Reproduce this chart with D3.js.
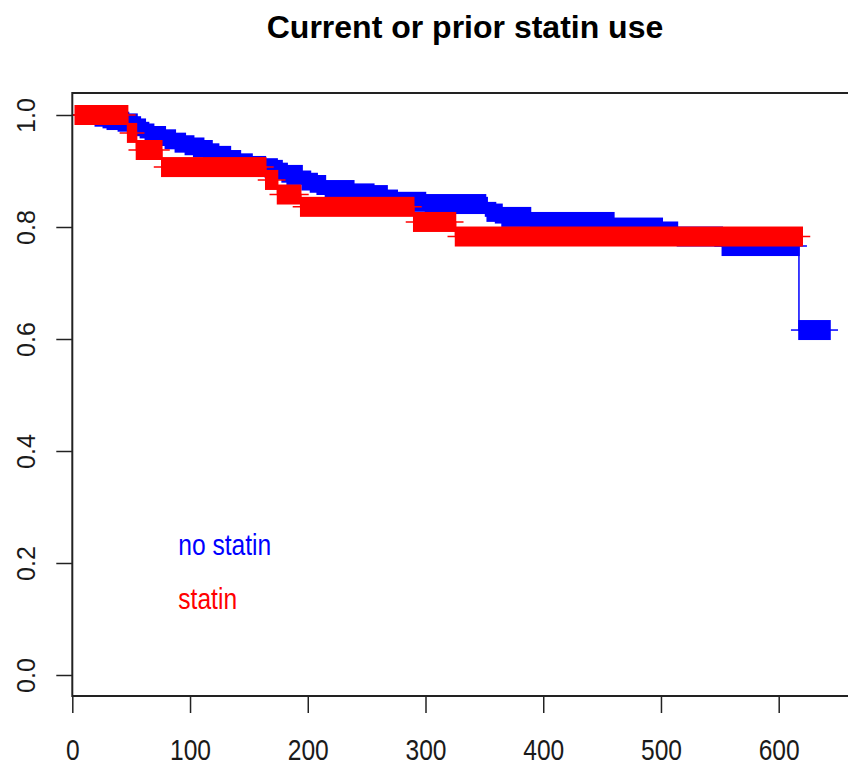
<!DOCTYPE html>
<html>
<head>
<meta charset="utf-8">
<script src="https://cdn.jsdelivr.net/npm/d3@7"></script>
<style>
  body { margin: 0; background: #fff; }
  text { font-family: "Liberation Sans", Arial, sans-serif; fill: #1a1a1a; }
</style>
</head>
<body>
<div id="chart"></div>
<script>
// Kaplan-Meier steps: time of each drop and the survival after it
var groups = ["no statin", "statin"];
var groupColors = ["#0000ff", "#ff0000"];

var noStatinTime = [0, 19.5, 26.3, 29.7, 39.1, 47.8, 55, 57.8, 62, 64.8,
  69.1, 79, 87.5, 96, 103.1, 111.6, 118.7, 124.3, 134.3, 142.8,
  152.7, 164, 174, 178.2, 182.5, 195.2, 202.3, 208, 215, 239.1,
  256.1, 267.4, 276, 300, 351, 352.4, 359.5, 365, 389.2, 460,
  501.1, 514, 552.1, 617.2];
var noStatinSurv = [1, 0.997, 0.994, 0.991, 0.988, 0.985, 0.98, 0.976, 0.97, 0.967,
  0.9625, 0.9566, 0.9506, 0.946, 0.942, 0.9375, 0.9316, 0.927, 0.9196, 0.9137,
  0.909, 0.905, 0.902, 0.897, 0.893, 0.883, 0.879, 0.875, 0.866, 0.86,
  0.857, 0.849, 0.845, 0.841, 0.836, 0.827, 0.824, 0.818, 0.809, 0.799,
  0.792, 0.783, 0.766, 0.616];
var noStatinEnd = 643.6;
// stretches of densely packed censoring marks [from, to]
var noStatinCensored = [[3, 643.6]];

var statinTime = [0, 47, 54.5, 76, 164.3, 174.3, 194, 290, 325.5];
var statinSurv = [1, 0.968, 0.9375, 0.907, 0.884, 0.858, 0.836, 0.809, 0.783];
var statinEnd = 620;
var statinCensored = [[2.5, 620]];

var xTicks = [0, 100, 200, 300, 400, 500, 600];
var yTicks = [0, 0.2, 0.4, 0.6, 0.8, 1.0];

var KMPlot = {
  settings: {
    width: 848,
    height: 767,
    left: 72.3,
    right: 858,
    top: 93,
    bottom: 696,
    markHalf: 10,   // vertical half size of a '+' mark
    armLen: 8,      // horizontal arm of a '+' mark
  },

  draw: function() {
    var s = KMPlot.settings;
    KMPlot.svg = d3.select("#chart").append("svg")
      .attr("width", s.width)
      .attr("height", s.height);

    KMPlot.x = d3.scaleLinear().domain([0, 600]).range([s.left, 778.7]);
    KMPlot.y = d3.scaleLinear().domain([0, 1]).range([675, 115]);

    KMPlot.svg.append("clipPath").attr("id", "plotclip")
      .append("rect")
      .attr("x", s.left).attr("y", s.top)
      .attr("width", s.right - s.left).attr("height", s.bottom - s.top);

    KMPlot.plot = KMPlot.svg.append("g").attr("clip-path", "url(#plotclip)");

    KMPlot.drawCurve(noStatinTime, noStatinSurv, noStatinEnd, noStatinCensored, groupColors[0]);
    KMPlot.drawCurve(statinTime, statinSurv, statinEnd, statinCensored, groupColors[1]);

    KMPlot.drawAxes();
    KMPlot.drawText();
  },

  drawCurve: function(times, surv, end, censored, color) {
    var x = KMPlot.x, y = KMPlot.y, s = KMPlot.settings;
    var g = KMPlot.plot.append("g");

    var pts = times.map(function(t, i) { return [t, surv[i]]; });
    pts.push([end, surv[surv.length - 1]]);
    g.append("path")
      .datum(pts)
      .attr("fill", "none")
      .attr("stroke", color)
      .attr("stroke-width", 1.5)
      .attr("d", d3.line()
        .x(function(d) { return x(d[0]); })
        .y(function(d) { return y(d[1]); })
        .curve(d3.curveStepAfter));

    // split censored stretches by step segment
    var pieces = [];
    times.forEach(function(t, i) {
      var segEnd = i < times.length - 1 ? times[i + 1] : end;
      censored.forEach(function(c) {
        var a = Math.max(t, c[0]), b = Math.min(segEnd, c[1]);
        if (b > a) pieces.push({ from: a, to: b, surv: surv[i] });
      });
    });

    g.selectAll(".cens").data(pieces).enter().append("rect")
      .attr("x", function(d) { return x(d.from) - 0.75; })
      .attr("y", function(d) { return y(d.surv) - s.markHalf; })
      .attr("width", function(d) { return x(d.to) - x(d.from) + 1.5; })
      .attr("height", s.markHalf * 2)
      .attr("fill", color);

    g.selectAll(".armL").data(pieces).enter().append("line")
      .attr("x1", function(d) { return x(d.from) - s.armLen; })
      .attr("x2", function(d) { return x(d.from); })
      .attr("y1", function(d) { return y(d.surv); })
      .attr("y2", function(d) { return y(d.surv); })
      .attr("stroke", color).attr("stroke-width", 1.5);

    g.selectAll(".armR").data(pieces).enter().append("line")
      .attr("x1", function(d) { return x(d.to); })
      .attr("x2", function(d) { return x(d.to) + s.armLen; })
      .attr("y1", function(d) { return y(d.surv); })
      .attr("y2", function(d) { return y(d.surv); })
      .attr("stroke", color).attr("stroke-width", 1.5);
  },

  drawAxes: function() {
    var s = KMPlot.settings, svg = KMPlot.svg;

    var xAxis = svg.append("g")
      .attr("transform", "translate(0," + s.bottom + ")")
      .call(d3.axisBottom(KMPlot.x).tickValues(xTicks).tickSize(17).tickFormat(d3.format("d")));
    xAxis.select(".domain").remove();
    xAxis.selectAll("line").attr("stroke", "#222").attr("stroke-width", 1.5);
    xAxis.selectAll("text")
      .attr("y", 64).attr("dy", 0)
      .attr("font-size", 30)
      .attr("transform", "scale(0.82,1)")
      .style("fill", "#1a1a1a");

    var yAxis = svg.append("g")
      .attr("transform", "translate(" + s.left + ",0)")
      .call(d3.axisLeft(KMPlot.y).tickValues(yTicks).tickSize(16).tickFormat(d3.format(".1f")));
    yAxis.select(".domain").remove();
    yAxis.selectAll("line").attr("stroke", "#222").attr("stroke-width", 1.5);
    yAxis.selectAll("text")
      .attr("transform", "rotate(-90)")
      .attr("x", 0).attr("y", -37).attr("dy", 0)
      .attr("text-anchor", "middle")
      .attr("font-size", 25)
      .style("fill", "#1a1a1a");

    svg.append("rect")
      .attr("x", s.left).attr("y", s.top)
      .attr("width", s.right - s.left).attr("height", s.bottom - s.top)
      .attr("fill", "none").attr("stroke", "#222").attr("stroke-width", 2);
  },

  drawText: function() {
    var svg = KMPlot.svg;
    svg.append("text")
      .attr("x", 465).attr("y", 37.5)
      .attr("text-anchor", "middle")
      .attr("font-size", 32).attr("font-weight", "bold")
      .style("fill", "#000")
      .text("Current or prior statin use");

    var legendY = [555, 609];
    groups.forEach(function(name, i) {
      svg.append("text")
        .attr("transform", "translate(178.3," + legendY[i] + ") scale(0.82,1)")
        .attr("font-size", 30)
        .style("fill", groupColors[i])
        .text(name);
    });
  },
};

KMPlot.draw();
</script>
</body>
</html>
